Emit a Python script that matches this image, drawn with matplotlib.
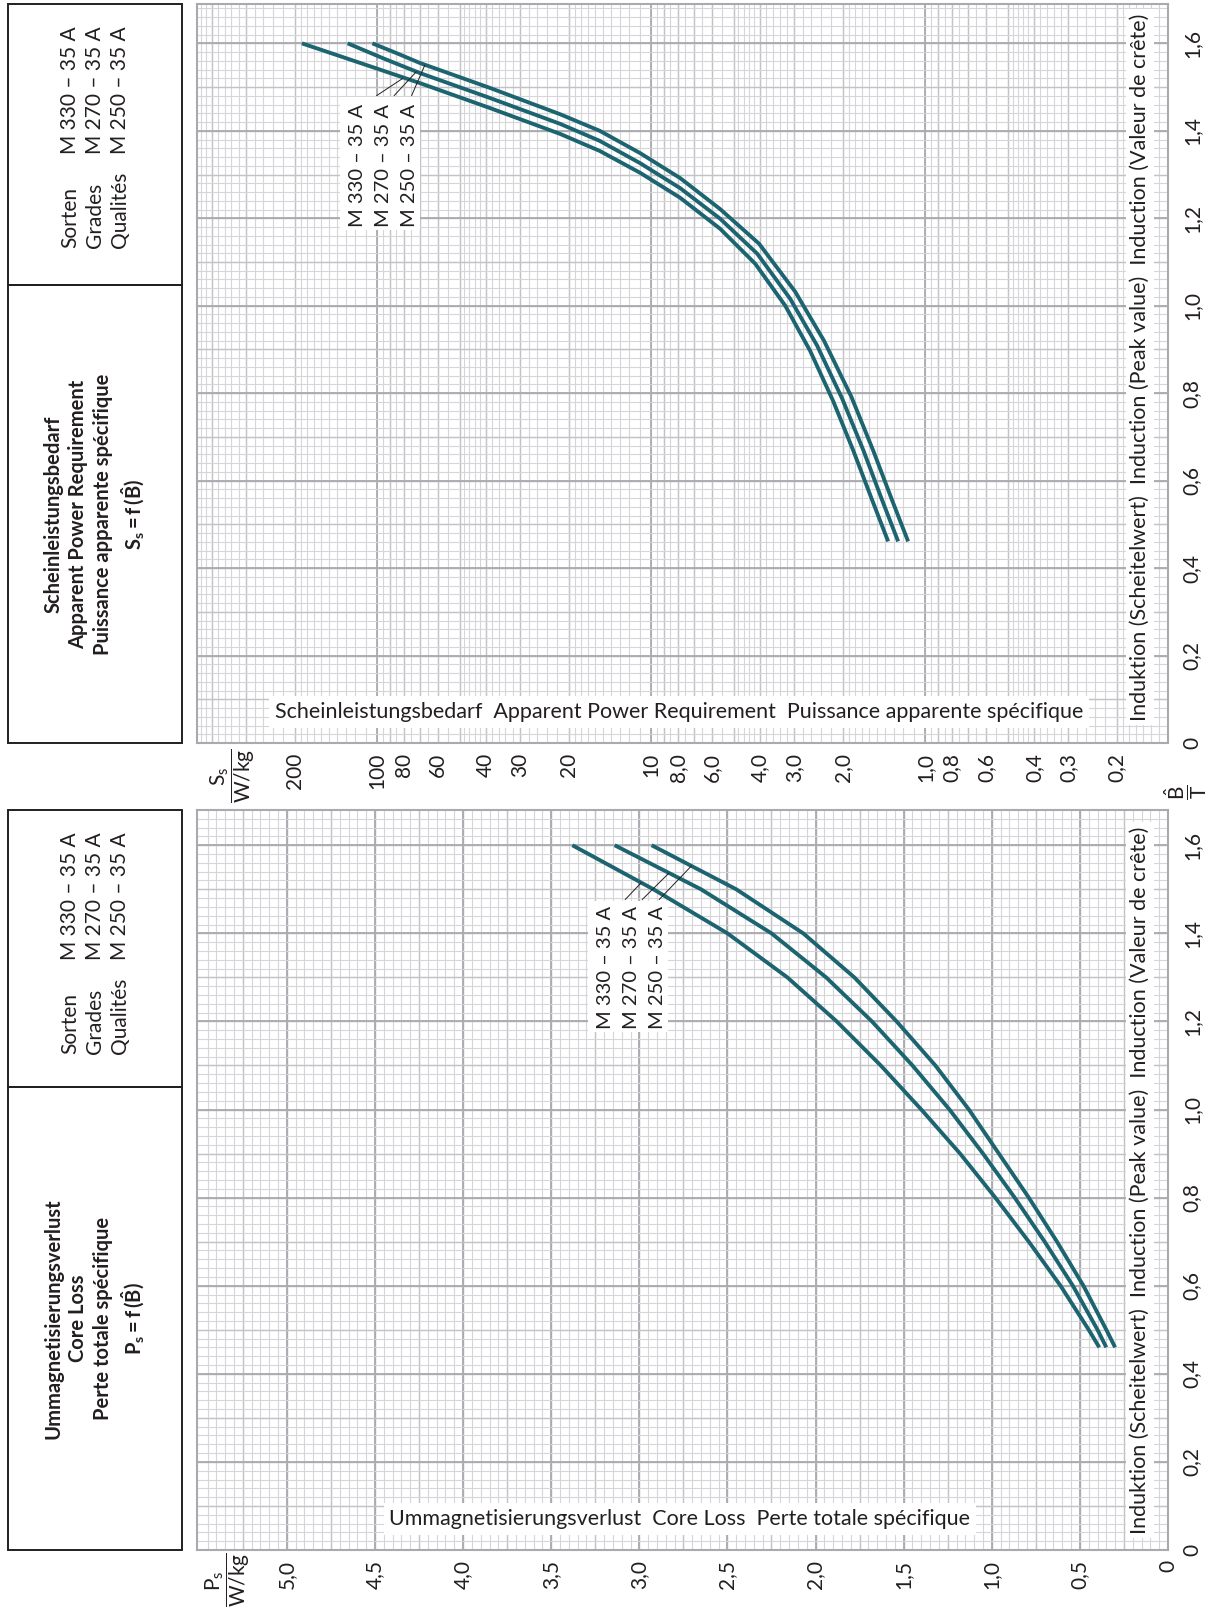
import numpy as np
import matplotlib
matplotlib.use("Agg")
import matplotlib.pyplot as plt
from matplotlib.patches import Rectangle
from matplotlib.ticker import NullLocator

# grades shown on both sheets
grades = ["M 330 – 35 A", "M 270 – 35 A", "M 250 – 35 A"]

# apparent power S_s (W/kg) over peak induction B (T), one point list per grade
ss_b_m330 = [0.461, 0.555, 0.669, 0.783, 0.897, 1.000, 1.096, 1.176, 1.247, 1.304,
             1.354, 1.393, 1.452, 1.509, 1.555, 1.600]
ss_m330 = [1.365, 1.56, 1.83, 2.17, 2.63, 3.24, 4.17, 5.60, 7.84, 10.97,
           15.4, 21.5, 38.7, 69.7, 115, 188]
ss_b_m270 = [0.461, 0.555, 0.669, 0.788, 0.909, 1.016, 1.119, 1.199, 1.269, 1.326,
             1.377, 1.416, 1.475, 1.532, 1.564, 1.600]
ss_m270 = [1.255, 1.435, 1.68, 2.01, 2.48, 3.11, 4.10, 5.60, 7.84, 10.97,
           15.4, 21.5, 38.7, 69.7, 93.5, 128]
ss_b_m250 = [0.461, 0.555, 0.669, 0.792, 0.920, 1.032, 1.142, 1.221, 1.292, 1.349,
             1.400, 1.438, 1.498, 1.555, 1.578, 1.600]
ss_m250 = [1.154, 1.32, 1.548, 1.86, 2.34, 2.98, 4.04, 5.60, 7.84, 10.97,
           15.4, 21.5, 38.7, 69.7, 85.2, 104]

# core loss P_s (W/kg) over peak induction B (T)
ps_b = [0.46, 0.5, 0.6, 0.7, 0.8, 0.9, 1.0, 1.1, 1.2, 1.3, 1.4, 1.5, 1.6]
ps_m330 = [0.39, 0.45, 0.61, 0.79, 0.98, 1.18, 1.40, 1.63, 1.88, 2.16, 2.50, 2.92, 3.38]
ps_m270 = [0.35, 0.40, 0.54, 0.70, 0.87, 1.05, 1.24, 1.45, 1.68, 1.94, 2.25, 2.65, 3.14]
ps_m250 = [0.30, 0.35, 0.48, 0.63, 0.79, 0.96, 1.13, 1.32, 1.54, 1.78, 2.07, 2.45, 2.93]

ss_ticks = [200, 100, 80, 60, 40, 30, 20, 10, 8, 6, 4, 3, 2, 1, 0.8, 0.6, 0.4, 0.3, 0.2]
ss_ticklabels = ["200", "100", "80", "60", "40", "30", "20", "10", "8,0", "6,0",
                 "4,0", "3,0", "2,0", "1,0", "0,8", "0,6", "0,4", "0,3", "0,2"]
ps_ticks = [5.0, 4.5, 4.0, 3.5, 3.0, 2.5, 2.0, 1.5, 1.0, 0.5, 0.0]
ps_ticklabels = ["5,0", "4,5", "4,0", "3,5", "3,0", "2,5", "2,0", "1,5", "1,0", "0,5", "0"]
b_ticks = [0.0, 0.2, 0.4, 0.6, 0.8, 1.0, 1.2, 1.4, 1.6]
b_ticklabels = ["0", "0,2", "0,4", "0,6", "0,8", "1,0", "1,2", "1,4", "1,6"]

plt.rcParams["font.family"] = ["Lato", "DejaVu Sans"]
plt.rcParams["mathtext.fontset"] = "custom"
plt.rcParams["mathtext.rm"] = "Lato"
plt.rcParams["mathtext.it"] = "Lato:italic"
plt.rcParams["mathtext.bf"] = "Lato:bold"

W, H = 1213, 1609
TEAL = "#1c6470"
INK = "#231f20"
MINOR = "#d6d6da"
MEDIUM = "#c2c2c7"
MAJOR = "#a9a9af"

fig = plt.figure(figsize=(W / 100, H / 100), dpi=100)

# pixel-space layer for the boxes and the axis captions
page = fig.add_axes([0, 0, 1, 1])
page.set_xlim(0, W)
page.set_ylim(H, 0)
page.axis("off")


def panel_axes(top, bottom, left=197, right=1168):
    return fig.add_axes([left / W, 1 - bottom / H, (right - left) / W, (bottom - top) / H])


def b_grid(ax, bmax):
    tr = ax.get_yaxis_transform()
    ax.hlines(np.arange(0, bmax, 0.02), 0, 1, transform=tr, colors=MINOR, lw=0.8, zorder=0)
    ax.hlines(np.arange(0, bmax, 0.1), 0, 1, transform=tr, colors=MEDIUM, lw=1.0, zorder=0)
    ax.hlines(np.arange(0, bmax, 0.2), 0, 1, transform=tr, colors=MAJOR, lw=1.3, zorder=0)


def finish_panel(ax, bmax, text_y):
    ax.set_ylim(0, bmax)
    ax.yaxis.tick_right()
    ax.set_yticks(b_ticks, b_ticklabels, rotation=90, va="center")
    ax.yaxis.set_minor_locator(NullLocator())
    ax.tick_params(axis="y", length=0, pad=10, labelsize=15, labelcolor=INK)
    ax.tick_params(axis="x", length=0, pad=7, labelsize=15, labelcolor=INK)
    for sp in ax.spines.values():
        sp.set_color(MAJOR)
        sp.set_linewidth(1.5)
    ax.text(0.971, text_y, "Induktion (Scheitelwert)  Induction (Peak value)  Induction (Valeur de crête)",
            transform=ax.transAxes, rotation=90, ha="center", va="bottom", fontsize=15.5,
            color=INK, zorder=4,
            bbox=dict(facecolor="white", edgecolor="none", pad=3))


def header(top, mid, bottom, title):
    page.add_patch(Rectangle((8, top), 174, mid - top, fill=False, lw=1.4, ec=INK))
    page.add_patch(Rectangle((8, mid), 174, bottom - mid, fill=False, lw=1.4, ec=INK))
    page.text(95, top + 244, "Sorten\nGrades\nQualités", rotation=90, ha="center",
              va="bottom", multialignment="left", linespacing=1.3, fontsize=15, color=INK)
    page.text(95, top + 150, "\n".join(grades), rotation=90, ha="center",
              va="bottom", multialignment="left", linespacing=1.3, fontsize=15, color=INK)
    page.text(95, (mid + bottom) / 2, title, rotation=90, ha="center", va="center",
              multialignment="center", linespacing=1.3, fontsize=14.5,
              fontweight="bold", color=INK)


def curve_labels(ax, x0, y0, x1, y1, curves, leader_b):
    ax.add_patch(Rectangle((x0, y0), x1 - x0, y1 - y0, transform=ax.transAxes,
                           facecolor="white", edgecolor="none", zorder=4))
    cols = np.linspace(x0 + 0.018, x1 - 0.011, 3)
    for k, (name, xc) in enumerate(zip(grades, cols)):
        ax.text(xc, y0 + 0.004, name, transform=ax.transAxes, rotation=90,
                ha="center", va="bottom", fontsize=14.5, color=INK, zorder=5)
        bx, by = curves[k]
        xv = np.interp(leader_b[k], by, bx)
        ax.annotate("", xy=(xv, leader_b[k]), xycoords="data",
                    xytext=(xc + 0.02 - 0.009 * k, y1 + 0.002), textcoords="axes fraction",
                    arrowprops=dict(arrowstyle="-", lw=0.7, color=INK,
                                    shrinkA=0, shrinkB=0), zorder=5)


# ---- apparent power sheet (log scale) ----
ax_s = panel_axes(4, 743)
ax_s.set_xscale("log")
ax_s.set_xlim(454, 0.13)
fine, mid_lines, decades = [], [], []
for d in [0.1, 1, 10, 100]:
    fine += list(d * np.arange(1.0, 2.0, 0.1)) + list(d * np.arange(2.0, 5.0, 0.2)) \
        + list(d * np.arange(5.0, 10.0, 0.5))
    mid_lines += list(d * np.arange(2, 10, 1))
    decades.append(d)
xtr = ax_s.get_xaxis_transform()
ax_s.vlines([v for v in fine if 0.13 < v < 454], 0, 1, transform=xtr, colors=MINOR, lw=0.8, zorder=0)
ax_s.vlines([v for v in mid_lines if 0.13 < v < 454], 0, 1, transform=xtr, colors=MEDIUM, lw=1.0, zorder=0)
ax_s.vlines([v for v in decades if 0.13 < v < 454], 0, 1, transform=xtr, colors=MAJOR, lw=1.3, zorder=0)
b_grid(ax_s, 1.69)
ss_curves = [(ss_m330, ss_b_m330), (ss_m270, ss_b_m270), (ss_m250, ss_b_m250)]
for xs, ys in ss_curves:
    ax_s.plot(xs, ys, color=TEAL, lw=2.8, solid_capstyle="butt", solid_joinstyle="round", zorder=3)
ax_s.set_xticks(ss_ticks, ss_ticklabels, rotation=90)
ax_s.xaxis.set_minor_locator(NullLocator())
finish_panel(ax_s, 1.69, 0.03)
ax_s.text(0.080, 0.042, "Scheinleistungsbedarf  Apparent Power Requirement  Puissance apparente spécifique",
          transform=ax_s.transAxes, ha="left", va="center", fontsize=15.5, color=INK, zorder=4,
          bbox=dict(facecolor="white", edgecolor="none", pad=4))
curve_labels(ax_s, 0.147, 0.694, 0.230, 0.874, ss_curves, [1.52, 1.535, 1.55])

# ---- core loss sheet (linear scale) ----
ax_p = panel_axes(810, 1550)
ax_p.set_xlim(5.51, 0)
xtr = ax_p.get_xaxis_transform()
ax_p.vlines(np.arange(0, 5.5, 0.05), 0, 1, transform=xtr, colors=MINOR, lw=0.8, zorder=0)
ax_p.vlines(np.arange(0, 5.5, 0.25), 0, 1, transform=xtr, colors=MEDIUM, lw=1.0, zorder=0)
ax_p.vlines(np.arange(0, 5.5, 0.5), 0, 1, transform=xtr, colors=MAJOR, lw=1.3, zorder=0)
b_grid(ax_p, 1.68)
ps_curves = [(ps_m330, ps_b), (ps_m270, ps_b), (ps_m250, ps_b)]
for xs, ys in ps_curves:
    ax_p.plot(xs, ys, color=TEAL, lw=2.8, solid_capstyle="butt", solid_joinstyle="round", zorder=3)
ax_p.set_xticks(ps_ticks, ps_ticklabels, rotation=90)
ax_p.xaxis.set_minor_locator(NullLocator())
finish_panel(ax_p, 1.68, 0.022)
ax_p.text(0.198, 0.042, "Ummagnetisierungsverlust  Core Loss  Perte totale spécifique",
          transform=ax_p.transAxes, ha="left", va="center", fontsize=15.5, color=INK, zorder=4,
          bbox=dict(facecolor="white", edgecolor="none", pad=4))
curve_labels(ax_p, 0.403, 0.700, 0.485, 0.877, ps_curves, [1.515, 1.537, 1.553])

# ---- headers and unit captions ----
header(4, 285, 743, "Scheinleistungsbedarf\nApparent Power Requirement\n"
       "Puissance apparente spécifique\n" + r"$\mathbf{S_s = f\,(\hat{B})}$")
header(810, 1087, 1550, "Ummagnetisierungsverlust\nCore Loss\n"
       "Perte totale spécifique\n" + r"$\mathbf{P_s = f\,(\hat{B})}$")
page.text(233, 776, r"$\dfrac{\mathrm{S_s}}{\mathrm{W/kg}}$", rotation=90, ha="center",
          va="center", fontsize=15, color=INK)
page.text(228, 1580, r"$\dfrac{\mathrm{P_s}}{\mathrm{W/kg}}$", rotation=90, ha="center",
          va="center", fontsize=15, color=INK)
page.text(1186, 792, r"$\dfrac{\hat{\mathrm{B}}}{\mathrm{T}}$", rotation=90, ha="center",
          va="center", fontsize=15, color=INK)

fig.savefig("out.png", dpi=100, facecolor="white")
